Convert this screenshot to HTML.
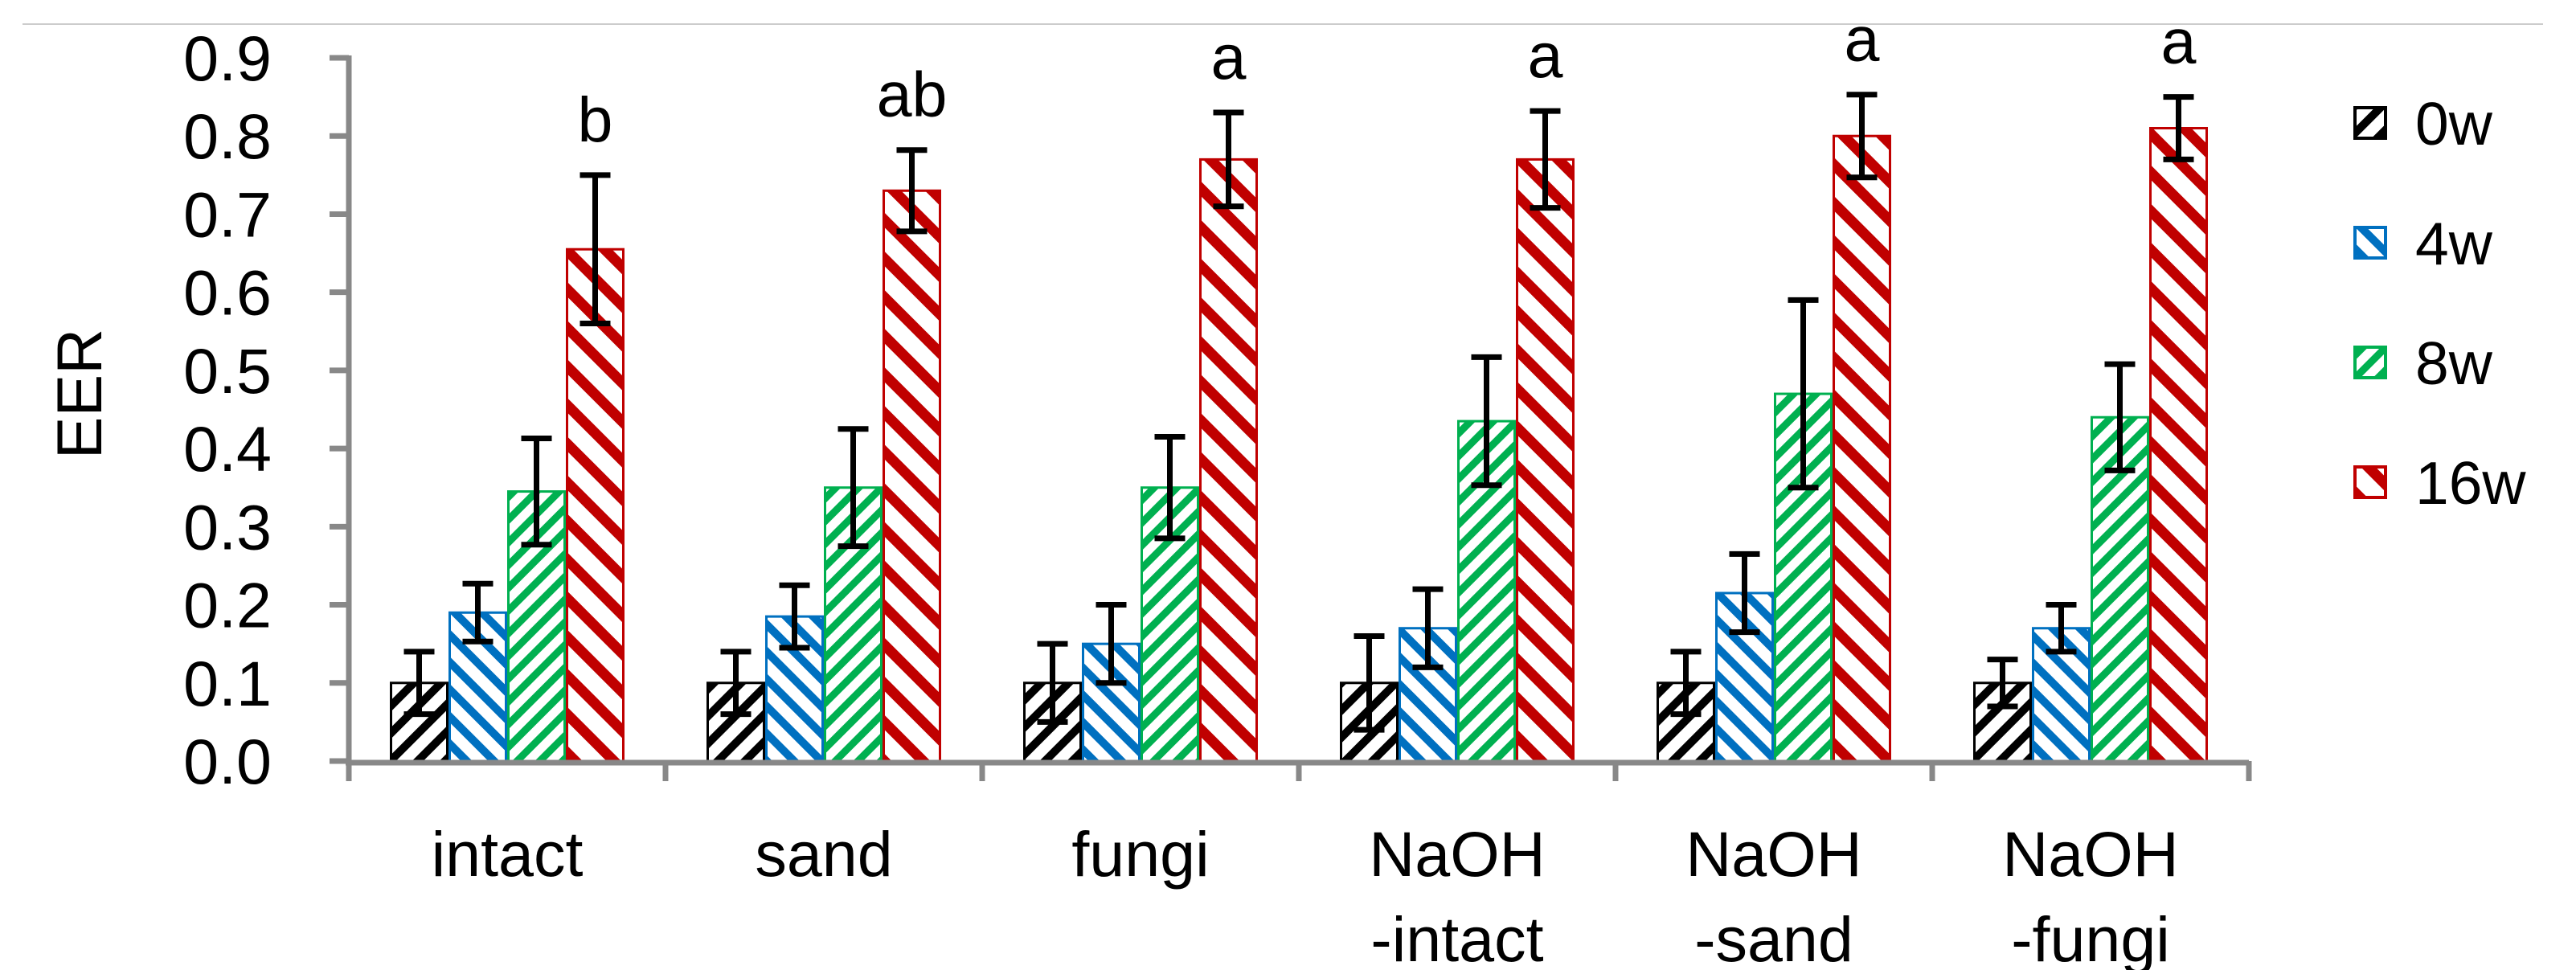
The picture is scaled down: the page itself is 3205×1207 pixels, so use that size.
<!DOCTYPE html>
<html><head><meta charset="utf-8"><style>
html,body{margin:0;padding:0;background:#fff;}
svg{display:block;font-family:"Liberation Sans",Arial,sans-serif;}
</style></head><body>
<svg id="chart" width="3205" height="1207" viewBox="0 0 3205 1207">
<defs>
<pattern id="p0" patternUnits="userSpaceOnUse" width="24" height="24" patternTransform="rotate(45)"><rect width="24" height="24" fill="#fff"/><rect width="10" height="24" fill="#000"/></pattern>
<pattern id="p1" patternUnits="userSpaceOnUse" width="24" height="24" patternTransform="rotate(-45)"><rect width="24" height="24" fill="#fff"/><rect width="10" height="24" fill="#0070c0"/></pattern>
<pattern id="p2" patternUnits="userSpaceOnUse" width="20" height="20" patternTransform="rotate(45)"><rect width="20" height="20" fill="#fff"/><rect width="9" height="20" fill="#00b050"/></pattern>
<pattern id="p3" patternUnits="userSpaceOnUse" width="34" height="34" patternTransform="rotate(-45)"><rect width="34" height="34" fill="#fff"/><rect width="13" height="34" fill="#c00000"/></pattern>
</defs>
<line x1="28" y1="30" x2="3164" y2="30" stroke="#ccc" stroke-width="2"/>
<g id="plot"></g>
</svg>
<script>
const categories=[["intact"],["sand"],["fungi"],["NaOH","-intact"],["NaOH","-sand"],["NaOH","-fungi"]];
const seriesNames=["0w","4w","8w","16w"];
const v0w=[0.10,0.10,0.10,0.10,0.10,0.10];
const v4w=[0.19,0.185,0.15,0.17,0.215,0.17];
const v8w=[0.345,0.35,0.35,0.435,0.47,0.44];
const v16w=[0.655,0.73,0.77,0.77,0.80,0.81];
const e0w=[0.04,0.04,0.05,0.06,0.04,0.03];
const e4w=[0.037,0.04,0.05,0.05,0.05,0.03];
const e8w=[0.068,0.075,0.065,0.082,0.12,0.068];
const e16w=[0.095,0.052,0.06,0.062,0.053,0.04];
const sigLetters=["b","ab","a","a","a","a"];
const yTicks=["0.0","0.1","0.2","0.3","0.4","0.5","0.6","0.7","0.8","0.9"];

const NS="http://www.w3.org/2000/svg";
const g=document.getElementById('plot');
const X0=434,X1=2798,Y0=947,Ytop=72,YMAX=0.9;
const y=v=>Y0-(v/YMAX)*(Y0-Ytop);
const catW=(X1-X0)/categories.length;
const barW=73;
function mk(t,a,p){const e=document.createElementNS(NS,t);for(const k in a)e.setAttribute(k,a[k]);(p||g).appendChild(e);return e;}
const vals=[v0w,v4w,v8w,v16w],errs=[e0w,e4w,e8w,e16w];
const cols=["#000","#0070c0","#00b050","#c00000"];
yTicks.forEach((t,i)=>{const v=parseFloat(t);
 const l=mk('line',{x1:410,x2:X0,y1:y(v),y2:y(v),stroke:'#888','stroke-width':7});
 
 
 const tx=mk('text',{x:338,y:y(v)+28,'font-size':79,'text-anchor':'end',fill:'#000'});tx.textContent=t;
 
 
});
const yt=mk('text',{x:0,y:0,'font-size':79,'text-anchor':'middle',transform:'translate(126,490) rotate(-90)'});yt.textContent="EER";


categories.forEach((c,ci)=>{
 const cx=X0+catW*(ci+0.5);
 const start=cx-2*barW;
 vals.forEach((arr,si)=>{
  const bx=start+si*barW;
  const r=mk('rect',{x:bx+1.5,y:y(arr[ci]),width:barW-3,height:Y0-y(arr[ci]),fill:'url(#p'+si+')',stroke:cols[si],'stroke-width':3});
  
  
 });
 vals.forEach((arr,si)=>{
  const mx=start+si*barW+barW/2,hi=y(arr[ci]+errs[si][ci]),lo=y(arr[ci]-errs[si][ci]);
  const eg=mk('g',{stroke:'#000','stroke-width':7});
  
  
  mk('line',{x1:mx,x2:mx,y1:hi,y2:lo},eg);
  mk('line',{x1:mx-19,x2:mx+19,y1:hi,y2:hi},eg);
  mk('line',{x1:mx-19,x2:mx+19,y1:lo,y2:lo},eg);
 });
 const m16=start+3*barW+barW/2;
 const lt=mk('text',{x:m16,y:y(v16w[ci]+e16w[ci])-42,'font-size':79,'text-anchor':'middle'});lt.textContent=sigLetters[ci];
 
 
 c.forEach((line,li)=>{
  const t=mk('text',{x:cx,y:1090+li*106,'font-size':79,'text-anchor':'middle'});t.textContent=line;
  
  
 });
});
const xa=mk('line',{x1:X0-4,x2:X1,y1:Y0+2,y2:Y0+2,stroke:'#888','stroke-width':7});


const ya=mk('line',{x1:X0,x2:X0,y1:Ytop-3,y2:Y0+25,stroke:'#888','stroke-width':7});


for(let i=1;i<=categories.length;i++){const l=mk('line',{x1:X0+catW*i,x2:X0+catW*i,y1:Y0,y2:Y0+25,stroke:'#888','stroke-width':7});
 
 }
seriesNames.forEach((n,i)=>{
 const ly=153+i*149;
 const r=mk('rect',{x:2930,y:ly-19,width:38,height:38,fill:'url(#p'+i+')',stroke:cols[i],'stroke-width':4});
 
 
 const t=mk('text',{x:3005,y:ly+27,'font-size':75});t.textContent=n;
 
 
});
</script>
</body></html>
